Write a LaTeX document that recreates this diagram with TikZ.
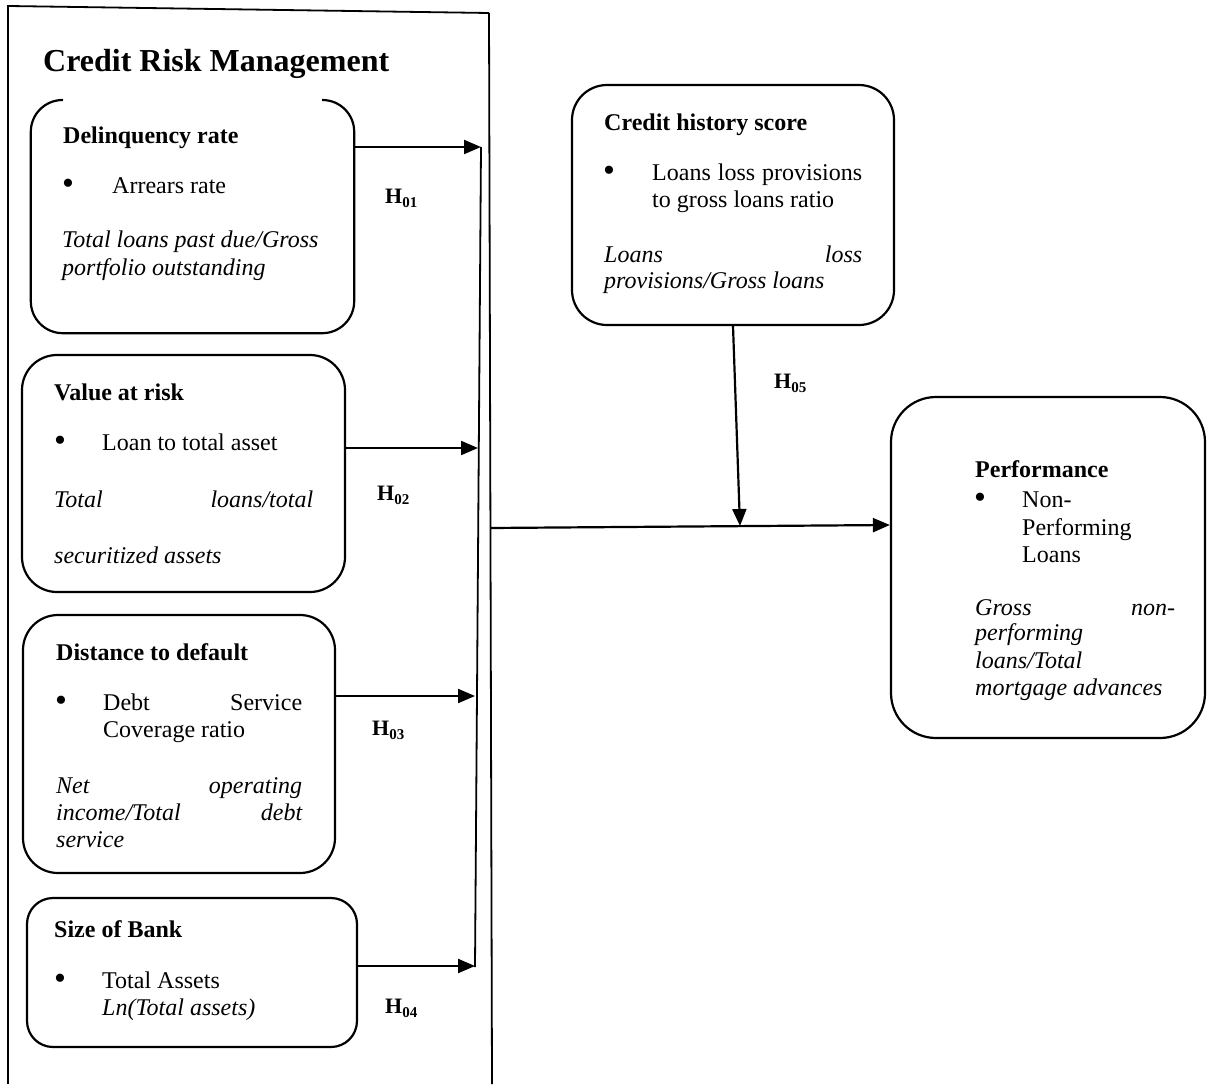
\documentclass[tikz,border=0pt]{standalone}
\usepackage{fontspec}
\setmainfont{Liberation Serif}
\usetikzlibrary{arrows.meta}
\newcommand{\hsub}[1]{H\raisebox{-0.22em}{\fontsize{15}{15}\selectfont #1}}
\newcommand{\bul}{\raisebox{-1.5pt}{\fontsize{34}{34}\selectfont •}}
\begin{document}
\begin{tikzpicture}[x=1pt,y=-1pt,
  box/.style={draw, line width=2.2pt, inner sep=0pt},
  arr/.style={line width=2.2pt, -{Triangle[length=17pt,width=14pt]}},
  framel/.style={line width=1.8pt},
  txt/.style={anchor=base west, inner sep=0pt, font=\fontsize{24}{27}\selectfont},
  hd/.style={txt, font=\fontsize{24}{27}\selectfont\bfseries},
  itx/.style={txt, font=\fontsize{24}{27}\selectfont\itshape},
  hl/.style={anchor=base west, inner sep=0pt, font=\fontsize{22}{24}\selectfont\bfseries}]
\useasboundingbox (0,0) rectangle (1207,1084);

% outer frame
\draw[framel] (8,5) -- (8,1084);
\draw[framel] (9,6) -- (489,13);
\draw[framel] (489,13) -- (492,1084);

% title
\node[anchor=base west, inner sep=0pt, font=\fontsize{32}{36}\selectfont\bfseries] (title) at (43,71) {Credit Risk Management};

% boxes
\node[inner sep=0pt, minimum width=323pt, minimum height=233pt] (del) at (192.5,216.5) {};
\draw[line width=2.2pt, rounded corners=32pt] (63,100) -- (del.north west) -- (del.south west) -- (del.south east) -- (del.north east) -- (322,100);
\node[box, rounded corners=35pt, minimum width=323pt, minimum height=237pt] (var) at (183.5,473.5) {};
\node[box, rounded corners=35pt, minimum width=312pt, minimum height=258pt] (dtd) at (179,744) {};
\node[box, rounded corners=26pt, minimum width=330pt, minimum height=149pt] (sob) at (192,972.5) {};
\node[box, rounded corners=35pt, minimum width=322pt, minimum height=240pt] (chs) at (733,205) {};
\node[box, rounded corners=45pt, minimum width=314pt, minimum height=341pt] (perf) at (1048,567.5) {};

% delinquency text
\node[hd] (d1) at (63,143) {Delinquency rate};
\node[txt] (d2b) at (62,193) {\bul};
\node[txt] (d2) at (112,193) {Arrears rate};
\node[itx] (d3) at (62,247) {Total loans past due/Gross};
\node[itx] (d4) at (62,275) {portfolio outstanding};

% value at risk text
\node[hd] (v1) at (54,400) {Value at risk};
\node[txt] (v2b) at (54,450) {\bul};
\node[txt] (v2) at (102,450) {Loan to total asset};
\node[itx] (v3) at (54,507) {\hbox to 259pt{Total\hfill loans/total}};
\node[itx] (v4) at (54,563) {securitized assets};

% distance to default text
\node[hd] (t1) at (56,660) {Distance to default};
\node[txt] (t2b) at (55,710) {\bul};
\node[txt] (t2) at (103,710) {\hbox to 199pt{Debt\hfill Service}};
\node[txt] (t3) at (103,737) {Coverage ratio};
\node[itx] (t4) at (56,793) {\hbox to 246pt{Net\hfill operating}};
\node[itx] (t5) at (56,820) {\hbox to 246pt{income/Total\hfill debt}};
\node[itx] (t6) at (56,847) {service};

% size of bank text
\node[hd] (s1) at (54,937) {Size of Bank};
\node[txt] (s2b) at (54,988) {\bul};
\node[txt] (s2) at (102,988) {Total Assets};
\node[itx] (s3) at (102,1015) {Ln(Total assets)};

% credit history text
\node[hd] (c1) at (604,130) {Credit history score};
\node[txt] (c2b) at (603,180) {\bul};
\node[txt] (c2) at (652,180) {\hbox to 210pt{Loans\hfill loss\hfill provisions}};
\node[txt] (c3) at (652,207) {to gross loans ratio};
\node[itx] (c4) at (604,262) {\hbox to 258pt{Loans\hfill loss}};
\node[itx] (c5) at (604,288) {provisions/Gross loans};

% performance text
\node[hd] (p1) at (975,477) {Performance};
\node[txt] (p2b) at (974,507) {\bul};
\node[txt] (p2) at (1022,507) {Non-};
\node[txt] (p3) at (1022,535) {Performing};
\node[txt] (p4) at (1022,562) {Loans};
\node[itx] (p5) at (975,615) {\hbox to 200pt{Gross\hfill non-}};
\node[itx] (p6) at (975,640) {performing};
\node[itx] (p7) at (975,668) {loans/Total};
\node[itx] (p8) at (975,695) {mortgage advances};

% bus line and arrows
\coordinate (b1) at (481,147);
\coordinate (b2) at (478,448);
\coordinate (b3) at (475,696);
\coordinate (b4) at (475,966);
\draw[line width=1.8pt] (b1) -- (475,967);
\draw[arr] (del.east |- b1) -- (b1);
\draw[arr] (var.east |- b2) -- (b2);
\draw[arr] (dtd.east |- b3) -- (b3);
\draw[arr] (sob.east |- b4) -- (b4);

\coordinate (ms) at (490,528);
\draw[arr] (ms) -- (perf.west |- 0,525);
\coordinate (mj) at (740,526);
\draw[arr] (chs.south) -- (mj);

% hypothesis labels
\node[hl] (h1) at (385,203) {\hsub{01}};
\node[hl] (h2) at (377,500) {\hsub{02}};
\node[hl] (h3) at (372,735) {\hsub{03}};
\node[hl] (h4) at (385,1013) {\hsub{04}};
\node[hl] (h5) at (774,388) {\hsub{05}};
\end{tikzpicture}
\end{document}
